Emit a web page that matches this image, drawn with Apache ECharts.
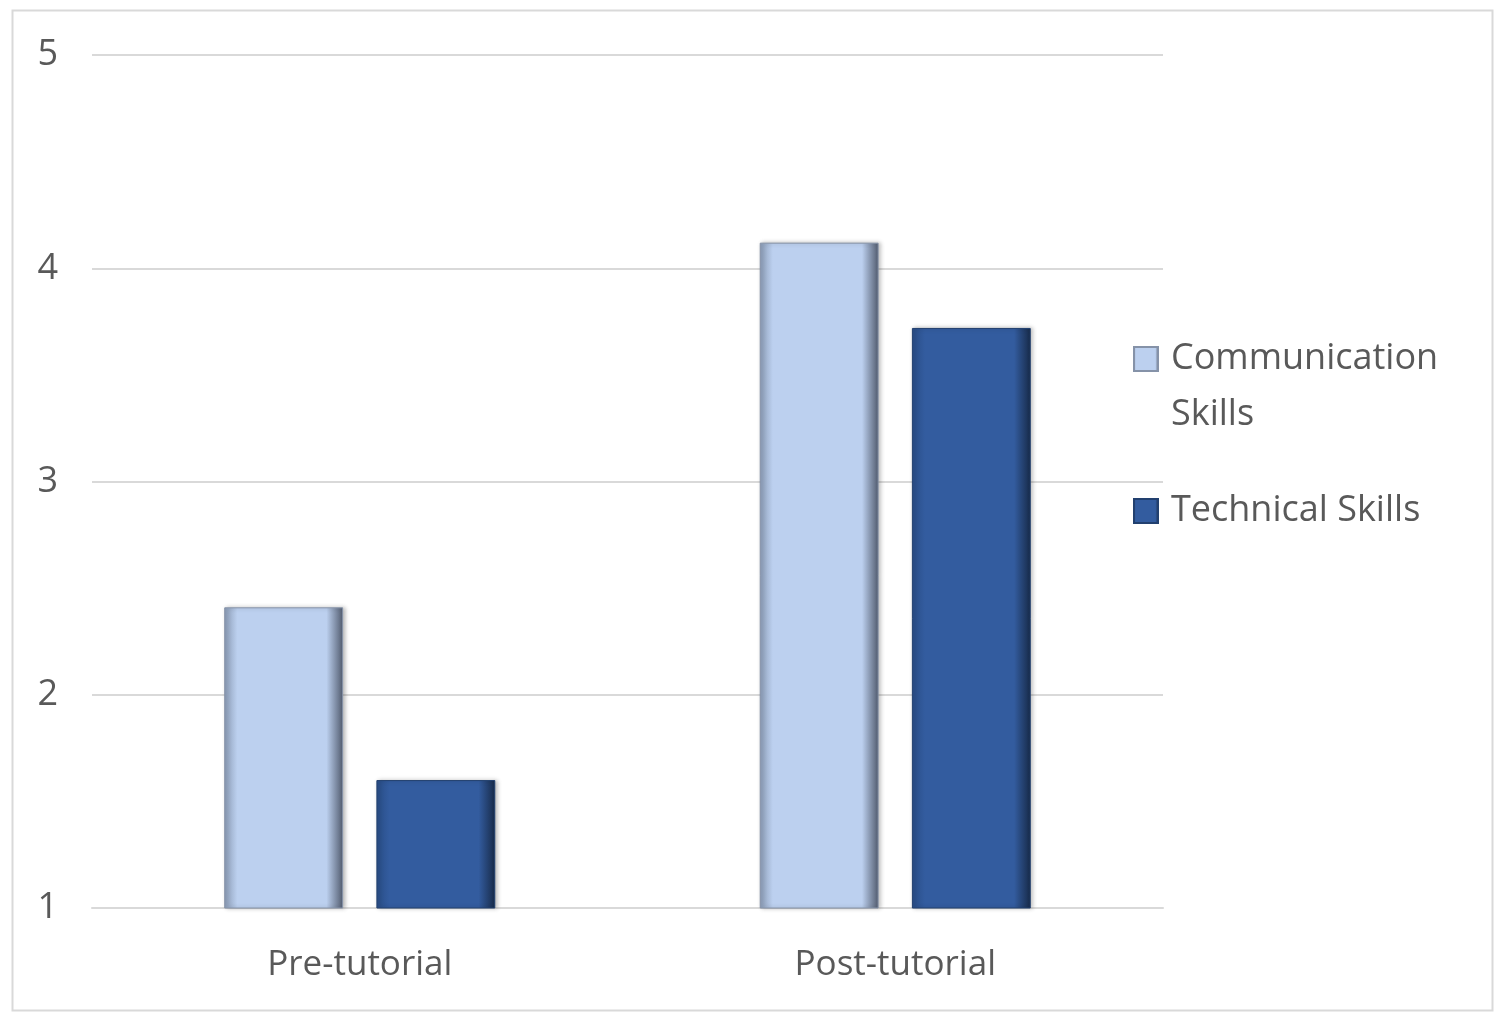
<!DOCTYPE html>
<html>
<head>
<meta charset="utf-8">
<script src="https://cdn.jsdelivr.net/npm/echarts@6/dist/echarts.min.js"></script>
<style>html,body{margin:0;padding:0;background:#fff;}#chart{width:1499px;height:1012px;}</style>
</head>
<body>
<div id="chart"></div>
<script>
const categories = ['Pre-tutorial', 'Post-tutorial'];
const communicationSkills = [2.41, 4.12];
const technicalSkills = [1.60, 3.72];
const yTicks = [1, 2, 3, 4, 5];

const FONT = 'Open Sans';
function hGrad(edgeL, mid, edgeR) {
  return new echarts.graphic.LinearGradient(0, 0, 1, 0, [
    {offset: 0, color: edgeL},
    {offset: 0.11, color: mid},
    {offset: 0.86, color: mid},
    {offset: 1, color: edgeR}
  ]);
}
const chart = echarts.init(document.getElementById('chart'));
chart.setOption({
  animation: false,
  backgroundColor: '#fff',
  textStyle: {fontFamily: FONT},
  graphic: [{
    type: 'rect', left: 10, top: 8,
    shape: {width: 1480, height: 1000},
    style: {fill: 'none', stroke: '#d9d9d9', lineWidth: 2},
    silent: true
  }],
  grid: {left: 92, right: 336, top: 55, bottom: 104},
  legend: {
    orient: 'vertical',
    left: 1128,
    top: 270,
    itemWidth: 24,
    itemHeight: 24,
    itemGap: 40,
    icon: 'rect',
    formatter: function (n) {
      return n === 'Communication Skills'
        ? '\n{s|}Communication\n{s|}Skills'
        : '{s|}' + n;
    },
    textStyle: {
      fontFamily: FONT, fontSize: 36, color: '#595959', lineHeight: 56,
      rich: {s: {width: 8, lineHeight: 56}}
    },
    data: ['Communication Skills', 'Technical Skills']
  },
  xAxis: {
    type: 'category',
    data: categories,
    axisLine: {lineStyle: {color: '#d9d9d9', width: 2}},
    axisTick: {show: false},
    axisLabel: {fontFamily: FONT, fontSize: 35, color: '#595959', margin: 40}
  },
  yAxis: {
    type: 'value',
    min: yTicks[0],
    max: yTicks[yTicks.length - 1],
    interval: 1,
    axisLine: {show: false},
    axisTick: {show: false},
    splitLine: {lineStyle: {color: '#d9d9d9', width: 2}},
    axisLabel: {fontFamily: FONT, fontSize: 36, color: '#595959', margin: 34}
  },
  series: [
    {
      name: 'Communication Skills',
      type: 'bar',
      data: communicationSkills,
      barWidth: '22.2%',
      barGap: '28%',
      itemStyle: {
        color: hGrad('#8a9bb5', '#bcd0ef', '#515b6e'),
        borderColor: '#8592a8',
        borderWidth: 1,
        shadowBlur: 4, shadowOffsetX: 2, shadowColor: 'rgba(0,0,0,0.25)'
      }
    },
    {
      name: 'Technical Skills',
      type: 'bar',
      data: technicalSkills,
      barWidth: '22.2%',
      itemStyle: {
        color: hGrad('#294d86', '#335c9f', '#172a48'),
        borderColor: '#22406f',
        borderWidth: 1,
        shadowBlur: 4, shadowOffsetX: 2, shadowColor: 'rgba(0,0,0,0.25)'
      }
    }
  ]
});
</script>
</body>
</html>
